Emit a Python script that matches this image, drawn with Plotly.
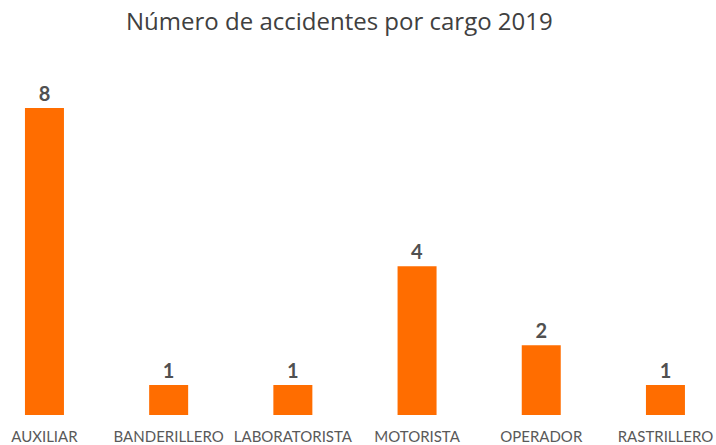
import plotly.graph_objects as go

categories = ["AUXILIAR", "BANDERILLERO", "LABORATORISTA", "MOTORISTA", "OPERADOR", "RASTRILLERO"]
accidents = [8, 1, 1, 4, 2, 1]

fig = go.Figure(go.Bar(
    x=categories,
    y=accidents,
    marker=dict(color="#FF6D00", line=dict(width=0)),
    text=accidents,
    texttemplate="<b>%{text}</b>",
    textposition="outside",
    textfont=dict(family="Lato, Open Sans, sans-serif", size=20, color="#505050"),
    cliponaxis=False,
))

fig.update_layout(
    width=716, height=445,
    margin=dict(l=0, r=0, t=60, b=30),
    paper_bgcolor="white", plot_bgcolor="white",
    showlegend=False,
    bargap=0.686,
    title=dict(text="Número de accidentes por cargo 2019", x=0.474, xanchor="center",
               y=0.97, yanchor="top",
               font=dict(family="Open Sans, sans-serif", size=24, color="#404040")),
    xaxis=dict(range=[-0.358, 5.407], showgrid=False, zeroline=False, showline=False,
               ticks="outside", ticklen=8, tickcolor="rgba(0,0,0,0)",
               tickfont=dict(family="Lato, sans-serif", size=15, color="#595959")),
    yaxis=dict(range=[0.24, 9.21], visible=False),
)

fig.write_html(
    "out.html",
    config={"displayModeBar": False},
    post_script="document.body.style.margin='0';document.body.style.overflow='hidden';",
)
